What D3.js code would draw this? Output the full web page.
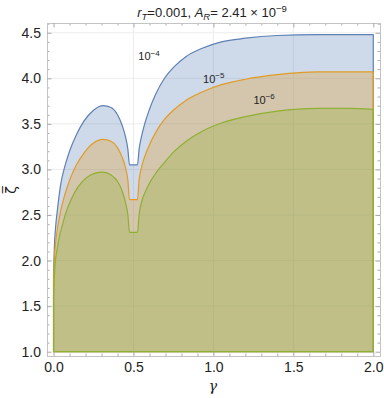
<!DOCTYPE html>
<html>
<head>
<meta charset="utf-8">
<script src="https://cdn.jsdelivr.net/npm/d3@7"></script>
<style>
  body { margin: 0; background: #fff; }
  svg { display: block; font-family: "Liberation Sans", Arial, sans-serif; }
</style>
</head>
<body>
<script>
// Curve samples: gamma (x) and zeta-bar (y) per exponent.
const gamma4 = [0, 0.005, 0.012, 0.025, 0.045, 0.07, 0.1, 0.14, 0.19, 0.25, 0.31, 0.36, 0.40, 0.43, 0.45, 0.465, 0.475,
                0.525, 0.535, 0.55, 0.57, 0.6, 0.64, 0.69, 0.75, 0.83, 0.93, 1.05, 1.2, 1.4, 1.65, 2.0];
const zeta4  = [1.85, 2.15, 2.35, 2.57, 2.84, 3.03, 3.2, 3.37, 3.53, 3.65, 3.70, 3.68, 3.60, 3.48, 3.36, 3.22, 3.05,
                3.05, 3.22, 3.36, 3.50, 3.66, 3.83, 3.99, 4.12, 4.24, 4.33, 4.40, 4.44, 4.47, 4.48, 4.48];

const gamma5 = [0, 0.005, 0.012, 0.025, 0.045, 0.07, 0.1, 0.14, 0.19, 0.25, 0.31, 0.36, 0.40, 0.43, 0.45, 0.465, 0.475,
                0.525, 0.535, 0.55, 0.57, 0.6, 0.64, 0.69, 0.75, 0.83, 0.93, 1.05, 1.2, 1.4, 1.65, 2.0];
const zeta5  = [1.8, 2.02, 2.18, 2.36, 2.55, 2.72, 2.88, 3.04, 3.18, 3.29, 3.33, 3.31, 3.24, 3.13, 3.02, 2.88, 2.67,
                2.67, 2.88, 3.02, 3.14, 3.27, 3.41, 3.54, 3.65, 3.76, 3.85, 3.93, 3.99, 4.04, 4.07, 4.07];

const gamma6 = [0, 0.004, 0.01, 0.02, 0.035, 0.055, 0.08, 0.11, 0.15, 0.2, 0.26, 0.31, 0.36, 0.40, 0.43, 0.45, 0.465, 0.475,
                0.525, 0.535, 0.55, 0.57, 0.6, 0.64, 0.69, 0.75, 0.83, 0.93, 1.05, 1.2, 1.4, 1.65, 1.85, 2.0];
const zeta6  = [1.6, 1.78, 1.97, 2.1, 2.25, 2.39, 2.54, 2.67, 2.80, 2.90, 2.96, 2.97, 2.94, 2.87, 2.76, 2.64, 2.50, 2.31,
                2.31, 2.50, 2.64, 2.74, 2.85, 2.96, 3.07, 3.19, 3.31, 3.42, 3.51, 3.58, 3.64, 3.67, 3.67, 3.66];

const exponents = ["\u22124", "\u22125", "\u22126"];
const labelAt = [[0.53, 4.2], [0.935, 3.95], [1.25, 3.72]];   // label anchor in data units
const colors = ["#5E81B5", "#E19C24", "#8FB032"];

const xMajor = [0, 0.5, 1.0, 1.5, 2.0];
const yMajor = [1.0, 1.5, 2.0, 2.5, 3.0, 3.5, 4.0, 4.5];

const W = 384, H = 398;
const frame = {left: 47, right: 380, top: 23, bottom: 356};

const x = d3.scaleLinear().domain([-0.041, 2.042]).range([frame.left, frame.right]);
const y = d3.scaleLinear().domain([0.953, 4.607]).range([frame.bottom, frame.top]);

const svg = d3.select("body").append("svg")
  .attr("width", W).attr("height", H);

// light grid at major ticks
svg.append("g").selectAll("line").data(xMajor.slice(1, -1)).join("line")
  .attr("x1", d => x(d)).attr("x2", d => x(d))
  .attr("y1", frame.top).attr("y2", frame.bottom)
  .attr("stroke", "#ececec");
svg.append("g").selectAll("line").data(yMajor.slice(1)).join("line")
  .attr("y1", d => y(d)).attr("y2", d => y(d))
  .attr("x1", frame.left).attr("x2", frame.right)
  .attr("stroke", "#ececec");

// filled regions, 1 <= zeta <= f(gamma)
const series = [[gamma4, zeta4], [gamma5, zeta5], [gamma6, zeta6]];
const area = d3.area()
  .x(d => x(d[0]))
  .y0(y(1))
  .y1(d => y(d[1]))
  .curve(d3.curveMonotoneX);

series.forEach(([g, z], i) => {
  svg.append("path")
    .datum(d3.zip(g, z))
    .attr("d", area)
    .attr("fill", colors[i])
    .attr("fill-opacity", 0.3)
    .attr("stroke", colors[i])
    .attr("stroke-width", 1.2)
    .attr("stroke-linejoin", "round");
});

// frame with ticks on every side
const minorX = d3.range(0, 2.01, 0.1).map(v => +v.toFixed(2)).filter(v => !xMajor.includes(v));
const minorY = d3.range(1.0, 4.61, 0.1).map(v => +v.toFixed(2)).filter(v => !yMajor.includes(v));
const fmt = d3.format(".1f");

function styleAxis(g) {
  g.select(".domain").attr("stroke", "#c4c4c4");
  g.selectAll(".tick line").attr("stroke", "#aaaaaa");
  g.selectAll(".tick text").attr("fill", "#222").attr("font-size", 14)
    .attr("font-family", "Liberation Sans, Arial, sans-serif");
}

const axes = [
  [d3.axisBottom, `translate(0,${frame.bottom})`, x, xMajor, minorX, true],
  [d3.axisTop, `translate(0,${frame.top})`, x, xMajor, minorX, false],
  [d3.axisLeft, `translate(${frame.left},0)`, y, yMajor, minorY, true],
  [d3.axisRight, `translate(${frame.right},0)`, y, yMajor, minorY, false]
];
axes.forEach(([fn, tr, sc, major, minor, labels]) => {
  svg.append("g").attr("transform", tr)
    .call(fn(sc).tickValues(minor).tickSize(-2.5).tickFormat(""))
    .call(styleAxis);
  svg.append("g").attr("transform", tr)
    .call(fn(sc).tickValues(major).tickSize(-4.5).tickPadding(labels ? 6 : 0)
      .tickFormat(labels ? fmt : ""))
    .call(styleAxis);
});

// curve labels
labelAt.forEach((p, i) => {
  const t = svg.append("text")
    .attr("x", x(p[0])).attr("y", y(p[1]))
    .attr("font-size", 11).attr("fill", "#222");
  t.append("tspan").text("10");
  t.append("tspan").attr("dy", -4.5).attr("font-size", 8).text(exponents[i]);
});

// title
const title = svg.append("text")
  .attr("x", 212).attr("y", 17).attr("text-anchor", "middle")
  .attr("font-size", 13).attr("fill", "#222");
title.append("tspan").attr("font-style", "italic").text("r");
title.append("tspan").attr("font-style", "italic").attr("font-size", 9.5).attr("dy", 3).text("T");
title.append("tspan").attr("dy", -3).text("=0.001, ");
title.append("tspan").attr("font-style", "italic").text("A");
title.append("tspan").attr("font-style", "italic").attr("font-size", 9.5).attr("dy", 3).text("R");
title.append("tspan").attr("dy", -3).text("= 2.41 \u00d7 10");
title.append("tspan").attr("dy", -5).attr("font-size", 9.5).text("\u22129");

// axis titles
svg.append("text")
  .attr("x", 213).attr("y", 391).attr("text-anchor", "middle")
  .attr("font-size", 14).attr("font-style", "italic").attr("fill", "#222")
  .attr("font-family", "DejaVu Serif, serif")
  .text("\u03b3");

svg.append("text")
  .attr("transform", "translate(16,190) rotate(-90)")
  .attr("text-anchor", "middle")
  .attr("font-size", 14).attr("fill", "#222")
  .attr("font-family", "DejaVu Sans, sans-serif")
  .text("\u03b6\u0305");
</script>
</body>
</html>
